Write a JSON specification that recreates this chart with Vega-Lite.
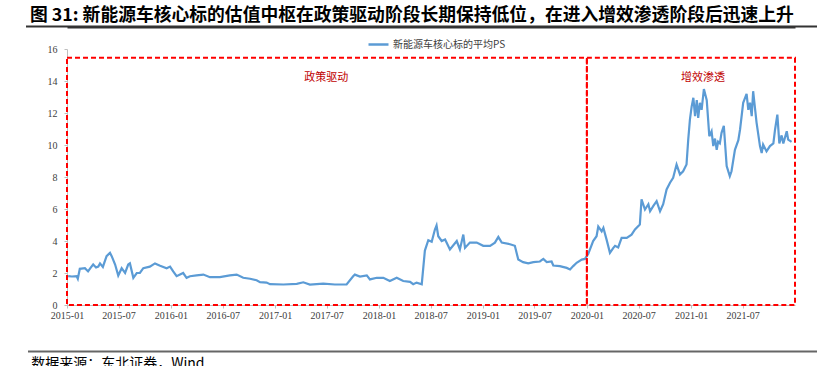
{
  "$schema": "https://vega.github.io/schema/vega-lite/v6.json",
  "width": 728,
  "height": 256,
  "autosize": "none",
  "padding": {"left": 67, "top": 49, "right": 22, "bottom": 61},
  "background": "white",
  "title": {
    "text": "图 31: 新能源车核心标的估值中枢在政策驱动阶段长期保持低位，在进入增效渗透阶段后迅速上升",
    "anchor": "start",
    "frame": "group",
    "dx": -37,
    "dy": 9,
    "offset": 10,
    "font": "Noto Sans CJK SC",
    "fontSize": 17.8,
    "fontWeight": "bold",
    "color": "#000000"
  },
  "resolve": {"axis": {"y": "independent", "x": "independent"}},
  "datasets": {
    "ps": [
      {"date":"2015-01-05","ps":1.8},{"date":"2015-01-18","ps":1.78},{"date":"2015-02-04","ps":1.8},{"date":"2015-02-08","ps":1.64},{"date":"2015-02-15","ps":2.26},{"date":"2015-03-05","ps":2.3},{"date":"2015-03-16","ps":2.1},{"date":"2015-03-26","ps":2.35},{"date":"2015-04-03","ps":2.53},{"date":"2015-04-13","ps":2.35},{"date":"2015-04-21","ps":2.4},{"date":"2015-04-27","ps":2.6},{"date":"2015-05-07","ps":2.38},{"date":"2015-05-20","ps":3.05},{"date":"2015-06-01","ps":3.26},{"date":"2015-06-07","ps":3.05},{"date":"2015-06-19","ps":2.53},{"date":"2015-06-30","ps":1.84},{"date":"2015-07-12","ps":2.3},{"date":"2015-07-24","ps":2.0},{"date":"2015-08-04","ps":2.53},{"date":"2015-08-10","ps":2.6},{"date":"2015-08-22","ps":1.7},{"date":"2015-09-03","ps":2.0},{"date":"2015-09-14","ps":2.0},{"date":"2015-09-26","ps":2.3},{"date":"2015-10-19","ps":2.4},{"date":"2015-11-06","ps":2.6},{"date":"2015-11-24","ps":2.45},{"date":"2015-12-17","ps":2.3},{"date":"2015-12-29","ps":2.4},
      {"date":"2016-01-09","ps":2.1},{"date":"2016-01-21","ps":1.8},{"date":"2016-02-13","ps":2.0},{"date":"2016-02-25","ps":1.7},{"date":"2016-03-08","ps":1.8},{"date":"2016-03-31","ps":1.85},{"date":"2016-04-24","ps":1.9},{"date":"2016-05-17","ps":1.74},{"date":"2016-06-21","ps":1.74},{"date":"2016-07-26","ps":1.85},{"date":"2016-08-19","ps":1.9},{"date":"2016-09-11","ps":1.7},{"date":"2016-10-05","ps":1.64},{"date":"2016-10-28","ps":1.55},{"date":"2016-11-09","ps":1.43},{"date":"2016-12-02","ps":1.4},{"date":"2016-12-14","ps":1.3},
      {"date":"2017-01-30","ps":1.28},{"date":"2017-03-18","ps":1.32},{"date":"2017-04-10","ps":1.42},{"date":"2017-05-03","ps":1.28},{"date":"2017-06-19","ps":1.34},{"date":"2017-07-30","ps":1.28},{"date":"2017-09-09","ps":1.28},{"date":"2017-10-02","ps":1.8},{"date":"2017-10-08","ps":1.9},{"date":"2017-10-26","ps":1.78},{"date":"2017-11-19","ps":1.85},{"date":"2017-11-30","ps":1.6},{"date":"2017-12-24","ps":1.7},
      {"date":"2018-01-16","ps":1.7},{"date":"2018-02-08","ps":1.5},{"date":"2018-03-04","ps":1.7},{"date":"2018-03-27","ps":1.5},{"date":"2018-04-20","ps":1.45},{"date":"2018-05-01","ps":1.3},{"date":"2018-05-13","ps":1.4},{"date":"2018-05-31","ps":1.3},{"date":"2018-06-11","ps":3.4},{"date":"2018-06-23","ps":4.05},{"date":"2018-07-05","ps":3.95},{"date":"2018-07-16","ps":4.7},{"date":"2018-07-22","ps":4.97},{"date":"2018-07-28","ps":4.3},{"date":"2018-08-09","ps":4.0},{"date":"2018-08-21","ps":4.1},{"date":"2018-09-07","ps":3.47},{"date":"2018-10-01","ps":4.0},{"date":"2018-10-12","ps":3.47},{"date":"2018-10-24","ps":4.4},{"date":"2018-10-30","ps":3.57},{"date":"2018-11-16","ps":3.9},{"date":"2018-12-10","ps":3.9},
      {"date":"2019-01-02","ps":3.7},{"date":"2019-01-26","ps":3.7},{"date":"2019-02-12","ps":3.9},{"date":"2019-02-24","ps":4.26},{"date":"2019-03-08","ps":3.9},{"date":"2019-04-06","ps":3.8},{"date":"2019-04-23","ps":3.7},{"date":"2019-05-05","ps":2.84},{"date":"2019-05-22","ps":2.68},{"date":"2019-06-09","ps":2.6},{"date":"2019-06-27","ps":2.68},{"date":"2019-07-20","ps":2.72},{"date":"2019-08-01","ps":2.88},{"date":"2019-08-13","ps":2.68},{"date":"2019-08-30","ps":2.72},{"date":"2019-09-05","ps":2.47},{"date":"2019-09-28","ps":2.43},{"date":"2019-10-22","ps":2.32},{"date":"2019-11-03","ps":2.22},{"date":"2019-11-14","ps":2.43},{"date":"2019-11-26","ps":2.64},{"date":"2019-12-14","ps":2.84},{"date":"2019-12-25","ps":2.88},
      {"date":"2020-01-06","ps":3.2},{"date":"2020-01-23","ps":4.0},{"date":"2020-02-04","ps":4.3},{"date":"2020-02-10","ps":4.9},{"date":"2020-02-22","ps":4.6},{"date":"2020-02-28","ps":4.82},{"date":"2020-03-10","ps":4.1},{"date":"2020-03-22","ps":3.26},{"date":"2020-04-03","ps":3.57},{"date":"2020-04-09","ps":3.7},{"date":"2020-04-20","ps":3.6},{"date":"2020-05-02","ps":4.2},{"date":"2020-05-20","ps":4.2},{"date":"2020-06-06","ps":4.4},{"date":"2020-06-18","ps":4.72},{"date":"2020-07-05","ps":5.03},{"date":"2020-07-11","ps":6.6},{"date":"2020-07-23","ps":5.97},{"date":"2020-08-04","ps":6.3},{"date":"2020-08-10","ps":5.86},{"date":"2020-08-21","ps":6.18},{"date":"2020-09-02","ps":6.49},{"date":"2020-09-14","ps":5.86},{"date":"2020-09-25","ps":6.3},{"date":"2020-10-07","ps":7.22},{"date":"2020-10-19","ps":7.64},{"date":"2020-10-30","ps":7.95},{"date":"2020-11-11","ps":8.78},{"date":"2020-11-23","ps":8.16},{"date":"2020-12-04","ps":8.36},{"date":"2020-12-16","ps":8.78},{"date":"2020-12-22","ps":10.34},{"date":"2020-12-28","ps":11.6},
      {"date":"2021-01-03","ps":12.4},{"date":"2021-01-09","ps":12.95},{"date":"2021-01-15","ps":11.8},{"date":"2021-01-21","ps":12.8},{"date":"2021-01-26","ps":11.7},{"date":"2021-02-01","ps":12.64},{"date":"2021-02-07","ps":12.2},{"date":"2021-02-15","ps":13.5},{"date":"2021-02-25","ps":12.8},{"date":"2021-03-06","ps":10.55},{"date":"2021-03-14","ps":10.86},{"date":"2021-03-20","ps":9.93},{"date":"2021-03-26","ps":10.4},{"date":"2021-04-01","ps":9.7},{"date":"2021-04-06","ps":10.2},{"date":"2021-04-12","ps":10.1},{"date":"2021-04-18","ps":10.76},{"date":"2021-04-26","ps":11.2},{"date":"2021-05-06","ps":8.68},{"date":"2021-05-17","ps":8.05},{"date":"2021-05-23","ps":8.36},{"date":"2021-06-04","ps":9.7},{"date":"2021-06-16","ps":10.3},{"date":"2021-06-22","ps":10.97},{"date":"2021-07-03","ps":12.64},{"date":"2021-07-15","ps":13.2},{"date":"2021-07-21","ps":12.2},{"date":"2021-07-27","ps":12.64},{"date":"2021-08-02","ps":11.8},{"date":"2021-08-07","ps":13.36},{"date":"2021-08-19","ps":11.4},{"date":"2021-08-31","ps":9.93},{"date":"2021-09-06","ps":9.5},{"date":"2021-09-11","ps":10.03},{"date":"2021-09-23","ps":9.6},{"date":"2021-10-05","ps":9.93},{"date":"2021-10-17","ps":10.1},{"date":"2021-10-23","ps":10.97},{"date":"2021-10-31","ps":11.9},{"date":"2021-11-07","ps":10.1},{"date":"2021-11-15","ps":10.6},{"date":"2021-11-21","ps":10.1},{"date":"2021-12-03","ps":10.86},{"date":"2021-12-08","ps":10.34},{"date":"2021-12-20","ps":10.2}
    ],
    "phases": [
      {"phase": "政策驱动", "start": "2015-01-01", "end": "2020-01-01", "labelDate": "2017-06-30"},
      {"phase": "增效渗透", "start": "2020-01-01", "end": "2022-01-01", "labelDate": "2021-02-12"}
    ]
  },
  "layer": [
    {
      "data": {"name": "ps"},
      "mark": {"type": "line", "color": "#5B9BD5", "strokeWidth": 2.2},
      "encoding": {
        "x": {
          "field": "date", "type": "temporal",
          "scale": {"type": "utc", "domain": [{"year": 2015, "month": 1, "date": 1, "utc": true}, {"year": 2022, "month": 1, "date": 1, "utc": true}]},
          "axis": {
            "title": null,
            "format": "%Y-%m",
            "values": [
              {"year": 2015, "month": 1, "date": 1, "utc": true},
              {"year": 2015, "month": 7, "date": 1, "utc": true},
              {"year": 2016, "month": 1, "date": 1, "utc": true},
              {"year": 2016, "month": 7, "date": 1, "utc": true},
              {"year": 2017, "month": 1, "date": 1, "utc": true},
              {"year": 2017, "month": 7, "date": 1, "utc": true},
              {"year": 2018, "month": 1, "date": 1, "utc": true},
              {"year": 2018, "month": 7, "date": 1, "utc": true},
              {"year": 2019, "month": 1, "date": 1, "utc": true},
              {"year": 2019, "month": 7, "date": 1, "utc": true},
              {"year": 2020, "month": 1, "date": 1, "utc": true},
              {"year": 2020, "month": 7, "date": 1, "utc": true},
              {"year": 2021, "month": 1, "date": 1, "utc": true},
              {"year": 2021, "month": 7, "date": 1, "utc": true}
            ],
            "grid": false,
            "domainColor": "#BFBFBF",
            "tickColor": "#BFBFBF",
            "tickSize": 3,
            "labelPadding": 2,
            "labelFlush": false,
            "labelFont": "Liberation Serif",
            "labelFontSize": 10,
            "labelColor": "#404040",
            "labelAngle": 0,
            "labelOverlap": false
          }
        },
        "y": {
          "field": "ps", "type": "quantitative",
          "scale": {"domain": [0, 16], "nice": false},
          "axis": {
            "title": null,
            "values": [0, 2, 4, 6, 8, 10, 12, 14, 16],
            "grid": false,
            "domainColor": "#BFBFBF",
            "tickColor": "#BFBFBF",
            "tickSize": 3,
            "labelPadding": 7,
            "labelOverlap": false,
            "labelFlush": false,
            "labelFont": "Liberation Serif",
            "labelFontSize": 10,
            "labelColor": "#404040"
          }
        },
        "color": {
          "datum": "新能源车核心标的平均PS",
          "type": "nominal",
          "scale": {"range": ["#5B9BD5"]},
          "legend": {
            "title": null,
            "orient": "none",
            "legendX": 300,
            "legendY": -16,
            "padding": 0,
            "symbolType": "stroke",
            "symbolSize": 400,
            "symbolStrokeWidth": 2.5,
            "labelOffset": 3,
            "labelFont": "Noto Sans CJK SC",
            "labelFontSize": 10,
            "labelColor": "#404040"
          }
        }
      }
    },
    {
      "data": {"values": [{"k": 1}]},
      "mark": {"type": "rule", "color": "#333333", "strokeWidth": 2, "clip": false},
      "encoding": {
        "x": {
          "datum": {"year": 2014, "month": 8, "date": 10, "utc": true}, "type": "temporal",
          "axis": {"orient": "top", "offset": 22, "title": null, "labels": false, "ticks": false, "grid": false, "domainColor": "#333333", "domainWidth": 2}
        },
        "x2": {"datum": {"year": 2022, "month": 4, "date": 1, "utc": true}},
        "y": {"datum": 17.41, "type": "quantitative", "axis": null}
      }
    },
    {
      "data": {"name": "phases"},
      "mark": {"type": "rect", "filled": false, "stroke": "#FF0000", "strokeWidth": 2, "strokeDash": [5, 3]},
      "encoding": {
        "x": {"field": "start", "type": "temporal", "axis": null},
        "x2": {"field": "end"},
        "y": {"datum": 15.45, "type": "quantitative", "axis": null},
        "y2": {"datum": 0}
      }
    },
    {
      "data": {"name": "phases"},
      "mark": {"type": "text", "color": "#C00000", "font": "Noto Sans CJK SC", "fontSize": 11},
      "encoding": {
        "x": {"field": "labelDate", "type": "temporal", "axis": null},
        "y": {"datum": 14.2, "type": "quantitative", "axis": null},
        "text": {"field": "phase"}
      }
    },
    {
      "data": {"values": [{"k": 2}]},
      "mark": {"type": "rule", "color": "#666666", "strokeWidth": 2},
      "encoding": {
        "x": {"datum": {"year": 2014, "month": 8, "date": 17, "utc": true}, "type": "temporal", "axis": null},
        "x2": {"datum": {"year": 2022, "month": 4, "date": 1, "utc": true}},
        "y": {"datum": -2.9, "type": "quantitative", "axis": null}
      }
    },
    {
      "data": {"values": [{"source": "数据来源：东北证券，Wind"}]},
      "mark": {"type": "text", "align": "left", "baseline": "top", "font": "Noto Sans CJK SC", "fontSize": 14, "color": "#000000"},
      "encoding": {
        "x": {"datum": {"year": 2014, "month": 8, "date": 28, "utc": true}, "type": "temporal", "axis": null},
        "y": {"datum": -3.22, "type": "quantitative", "axis": null},
        "text": {"field": "source"}
      }
    }
  ],
  "config": {"view": {"stroke": null}, "font": "Noto Sans CJK SC"}
}
